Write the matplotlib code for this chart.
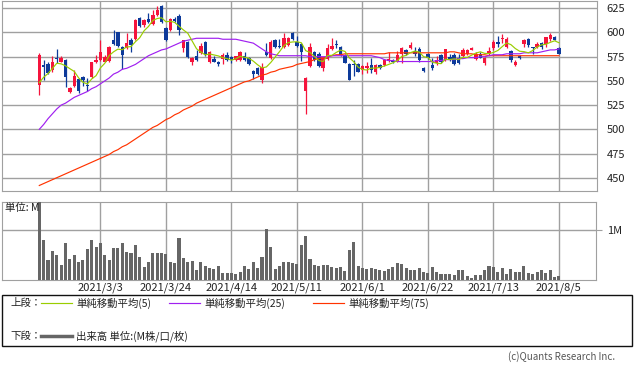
import numpy as np
import matplotlib
matplotlib.use("Agg")
import matplotlib.pyplot as plt
from matplotlib.lines import Line2D
from matplotlib.patches import Rectangle

plt.rcParams['font.family'] = ['Noto Sans CJK JP', 'DejaVu Sans']

# 日足データ (2021/2/9 - 2021/8/5, 120本)
opens = [546, 566, 567, 561, 574, 570, 572, 539, 545, 552,
         554, 546, 554, 569, 572, 570, 571, 592, 600, 585,
         584, 592, 593, 615, 608, 614, 609, 618, 627, 605,
         603, 614, 617, 584, 590, 570, 576, 579, 590, 569,
         573, 570, 573, 577, 575, 572, 572, 576, 574, 560,
         563, 551, 580, 574, 592, 586, 585, 587, 599, 590,
         588, 540, 565, 580, 578, 563, 573, 583, 588, 585,
         577, 567, 567, 567, 561, 563, 566, 559, 566, 566,
         571, 571, 570, 578, 582, 584, 581, 583, 563, 578,
         566, 568, 577, 572, 575, 577, 574, 576, 578, 582,
         573, 578, 568, 578, 584, 590, 593, 585, 581, 566,
         576, 588, 593, 585, 585, 589, 588, 593, 595, 584]
highs = [579, 572, 569, 576, 583, 576, 573, 544, 561, 553,
         555, 553, 569, 577, 592, 577, 586, 603, 601, 586,
         599, 594, 614, 616, 614, 620, 623, 627, 628, 606,
         615, 616, 619, 592, 591, 575, 582, 589, 591, 581,
         576, 571, 579, 580, 576, 576, 581, 580, 575, 561,
         564, 568, 589, 592, 593, 593, 599, 595, 600, 596,
         589, 554, 589, 581, 580, 575, 588, 594, 592, 586,
         578, 568, 572, 568, 566, 569, 574, 567, 567, 573,
         580, 573, 581, 585, 583, 590, 585, 585, 564, 579,
         574, 576, 578, 583, 578, 579, 578, 584, 583, 585,
         580, 580, 575, 585, 592, 596, 598, 595, 582, 572,
         577, 593, 594, 585, 590, 590, 595, 599, 596, 585]
lows = [535, 551, 557, 559, 568, 569, 544, 538, 544, 538,
        545, 540, 553, 568, 571, 569, 570, 587, 585, 562,
        583, 580, 592, 606, 606, 610, 608, 617, 610, 591,
        602, 611, 597, 580, 574, 566, 571, 578, 576, 568,
        569, 565, 567, 571, 568, 571, 571, 571, 566, 552,
        556, 548, 576, 573, 584, 584, 584, 586, 592, 585,
        571, 516, 564, 571, 564, 560, 572, 582, 584, 576,
        568, 551, 555, 559, 557, 558, 558, 557, 562, 565,
        569, 568, 569, 568, 577, 583, 576, 570, 559, 573,
        561, 566, 568, 571, 571, 566, 567, 575, 577, 582,
        572, 574, 566, 577, 582, 585, 589, 584, 570, 565,
        573, 585, 585, 578, 584, 583, 585, 591, 592, 578]
closes = [577, 564, 558, 569, 573, 574, 554, 543, 555, 540,
          551, 545, 569, 572, 580, 575, 585, 588, 586, 577,
          589, 587, 613, 607, 613, 611, 618, 623, 611, 592,
          614, 612, 603, 592, 575, 574, 572, 586, 577, 580,
          569, 567, 577, 572, 572, 576, 580, 572, 567, 557,
          557, 564, 577, 590, 585, 585, 594, 594, 593, 586,
          580, 553, 585, 572, 565, 575, 584, 586, 587, 577,
          568, 551, 566, 559, 565, 565, 561, 566, 563, 572,
          573, 570, 577, 584, 578, 587, 578, 572, 560, 574,
          563, 572, 570, 583, 572, 567, 568, 582, 582, 584,
          578, 574, 574, 581, 590, 588, 594, 593, 572, 570,
          574, 592, 587, 584, 588, 585, 595, 597, 592, 578]
# 表示期間より前の終値 (5日平均用)
pre_closes = [536, 539, 543, 546]

# 出来高 (M)
volume = [1.65, 0.80, 0.40, 0.58, 0.50, 0.30, 0.74, 0.42, 0.50, 0.36,
          0.40, 0.62, 0.80, 0.66, 0.74, 0.50, 0.40, 0.64, 0.64, 0.74,
          0.56, 0.54, 0.70, 0.46, 0.26, 0.36, 0.54, 0.54, 0.54, 0.52,
          0.36, 0.34, 0.84, 0.44, 0.36, 0.38, 0.20, 0.36, 0.28, 0.24,
          0.22, 0.28, 0.14, 0.14, 0.14, 0.12, 0.16, 0.28, 0.22, 0.36,
          0.24, 0.46, 1.02, 0.66, 0.22, 0.28, 0.36, 0.36, 0.34, 0.32,
          0.70, 0.88, 0.42, 0.30, 0.28, 0.30, 0.30, 0.26, 0.24, 0.26,
          0.18, 0.60, 0.76, 0.28, 0.24, 0.22, 0.24, 0.22, 0.20, 0.18,
          0.22, 0.26, 0.34, 0.32, 0.24, 0.20, 0.20, 0.24, 0.16, 0.14,
          0.26, 0.16, 0.12, 0.12, 0.12, 0.10, 0.20, 0.20, 0.08, 0.04,
          0.10, 0.10, 0.20, 0.28, 0.26, 0.16, 0.24, 0.12, 0.22, 0.16,
          0.16, 0.28, 0.14, 0.12, 0.16, 0.20, 0.14, 0.20, 0.06, 0.08]

# 25日・75日移動平均 (チャートから読み取り)
ma25 = [500, 505, 511, 516, 521, 525, 527, 530, 533, 535,
        537, 539, 542, 544, 547, 550, 553, 557, 559, 562,
        563, 565, 567, 570, 573, 576, 578, 580, 582, 583,
        585, 587, 589, 591, 592, 593, 594, 594, 594, 594,
        594, 594, 593, 593, 593, 593, 592, 591, 590, 589,
        586, 583, 580, 578, 577, 576, 576, 576, 576, 576,
        576, 576, 575, 575, 575, 575, 575, 576, 576, 576,
        576, 576, 576, 576, 576, 576, 576, 575, 574, 572,
        571, 571, 570, 570, 570, 570, 570, 570, 570, 570,
        570, 571, 571, 572, 572, 572, 573, 573, 574, 574,
        574, 575, 575, 576, 577, 577, 577, 578, 578, 578,
        578, 579, 579, 579, 579, 580, 581, 582, 582, 583]
ma75 = [442, 444, 446, 448, 450, 452, 454, 456, 458, 460,
        462, 464, 466, 468, 470, 472, 474, 477, 479, 482,
        484, 487, 490, 493, 496, 499, 502, 504, 507, 510,
        512, 515, 517, 520, 522, 524, 527, 529, 531, 533,
        535, 537, 539, 541, 543, 545, 547, 549, 550, 552,
        554, 556, 557, 559, 560, 562, 563, 564, 565, 567,
        568, 569, 570, 572, 573, 574, 575, 576, 577, 577,
        578, 578, 578, 578, 578, 578, 578, 578, 578, 578,
        579, 579, 579, 579, 579, 579, 579, 579, 579, 579,
        579, 579, 579, 579, 580, 580, 579, 578, 578, 578,
        577, 577, 577, 576, 576, 576, 576, 576, 576, 576,
        576, 576, 576, 576, 576, 576, 576, 576, 576, 576]

tick_pos = [14, 29, 44, 59, 74, 89, 104, 119]
tick_labels = ["2021/3/3", "2021/3/24", "2021/4/14", "2021/5/11",
               "2021/6/1", "2021/6/22", "2021/7/13", "2021/8/5"]
price_ticks = [450, 475, 500, 525, 550, 575, 600, 625]

RED = '#f5143c'
BLUE = '#0d3a9a'
C_MA5 = '#9acd00'
C_MA25 = '#a020f0'
C_MA75 = '#ff3300'
GRID = '#a0a0a0'
TXT = '#222222'

o = np.array(opens, float)
h = np.array(highs, float)
l = np.array(lows, float)
c = np.array(closes, float)
x = np.arange(len(c))

allc = np.concatenate([pre_closes, c])
ma5 = np.convolve(allc, np.ones(5) / 5, mode='valid')

fig = plt.figure(figsize=(6.34, 3.70), dpi=100)
W, H = 634.0, 370.0

# 上段
ax = fig.add_axes([2 / W, (H - 191) / H, 595 / W, 190 / H])
ax.set_xlim(-8.54, 127.7)
ax.set_ylim(436.3, 632.5)
ax.set_yticks(price_ticks)
ax.set_xticks(tick_pos)
ax.set_xticklabels([])
ax.grid(True, color=GRID, lw=1.0)
ax.set_axisbelow(True)
ax.yaxis.tick_right()
ax.tick_params(axis='y', length=0, pad=7, labelsize=8, labelcolor=TXT)
ax.tick_params(axis='x', length=0)
for s in ax.spines.values():
    s.set_color(GRID)

up = c >= o
cols = [RED if u else BLUE for u in up]
ax.vlines(x, l, h, colors=cols, lw=0.9, zorder=2)
body = np.maximum(np.abs(c - o), 0.8)
ax.bar(x, body, bottom=np.minimum(o, c), width=0.78, color=cols, lw=0, zorder=3)

ax.plot(x, ma75, color=C_MA75, lw=0.85, zorder=4)
ax.plot(x, ma25, color=C_MA25, lw=0.85, zorder=4)
ax.plot(x, ma5, color=C_MA5, lw=0.85, zorder=4)

# 下段 (出来高)
ax2 = fig.add_axes([2 / W, (H - 280) / H, 594 / W, 78.5 / H])
ax2.set_xlim(-8.54, 127.5)
ax2.set_ylim(0, 1.57)
ax2.bar(x, volume, width=0.7, color='#666666', lw=0, zorder=3)
ax2.set_yticks([1.0])
ax2.set_yticklabels(['1M'])
ax2.set_xticks(tick_pos)
ax2.set_xticklabels(tick_labels)
ax2.grid(True, color=GRID, lw=1.0)
ax2.set_axisbelow(True)
ax2.yaxis.tick_right()
ax2.tick_params(axis='y', length=4, color=GRID, pad=4, labelsize=8, labelcolor=TXT)
ax2.tick_params(axis='x', length=0, pad=1.5, labelsize=8, labelcolor=TXT)
for s in ax2.spines.values():
    s.set_color(GRID)
fig.text(5 / W, (H - 208) / H, '単位: M', fontsize=7.5, color=TXT, va='center', ha='left')

# 凡例
fig.patches.append(Rectangle((1.5 / W, (H - 346) / H), 630 / W, 51 / H,
                             transform=fig.transFigure, fill=False,
                             edgecolor='#111111', lw=1.0))
y1 = (H - 303) / H
y2 = (H - 336) / H
fig.text(10 / W, y1, '上段：', fontsize=7.5, color=TXT, va='center')
fig.text(10 / W, y2, '下段：', fontsize=7.5, color=TXT, va='center')
legend_items = [(41, C_MA5, '単純移動平均(5)'),
                (169, C_MA25, '単純移動平均(25)'),
                (313, C_MA75, '単純移動平均(75)')]
for x0, col, lab in legend_items:
    fig.add_artist(Line2D([x0 / W, (x0 + 31) / W], [y1, y1], color=col, lw=0.85,
                          transform=fig.transFigure))
    fig.text((x0 + 35) / W, y1, lab, fontsize=7.5, color=TXT, va='center')
fig.add_artist(Line2D([41 / W, 72 / W], [y2, y2], color='#666666', lw=2.5,
                      transform=fig.transFigure))
fig.text(76 / W, y2, '出来高 単位:(M株/口/枚)', fontsize=7.5, color=TXT, va='center')

fig.text(615 / W, (H - 357) / H, '(c)Quants Research Inc.', fontsize=7,
         color='#555555', ha='right', va='center')

fig.savefig('out.png', dpi=100)
